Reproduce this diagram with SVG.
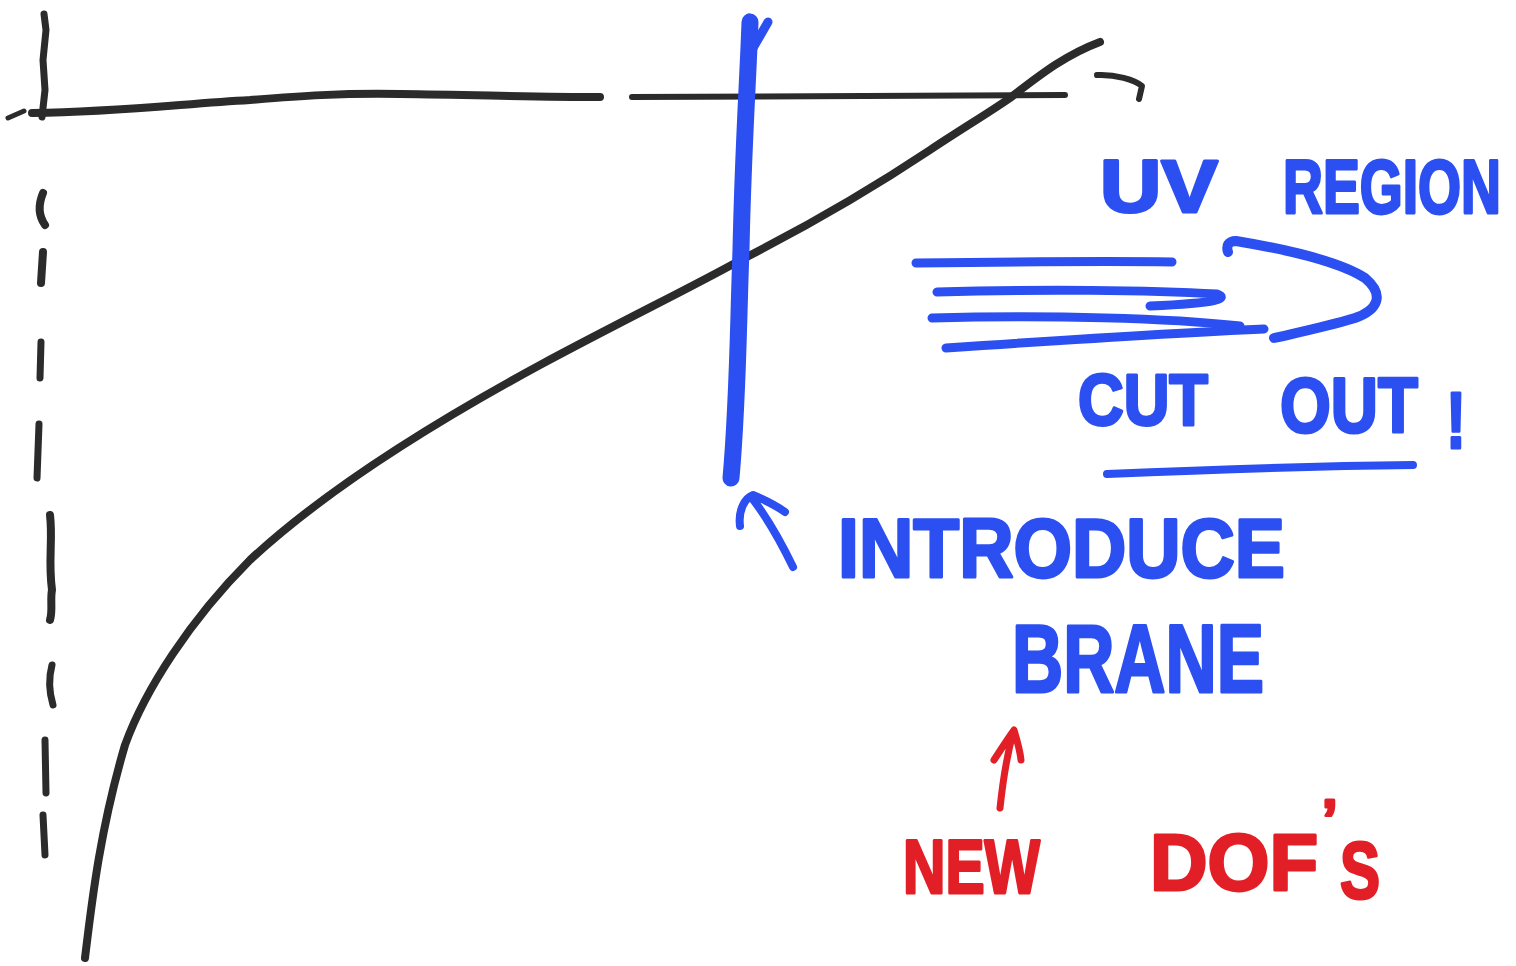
<svg xmlns="http://www.w3.org/2000/svg" width="1516" height="966" viewBox="0 0 1516 966">
<style>
.k{fill:none;stroke:#2b2b2b;stroke-linecap:round;stroke-linejoin:round}
.b{fill:none;stroke:#2b4ff0;stroke-linecap:round;stroke-linejoin:round}
.r{fill:none;stroke:#e21f26;stroke-linecap:round;stroke-linejoin:round}
.tb{fill:#2b4ff0;stroke:#2b4ff0;stroke-width:3;stroke-linejoin:round;font-family:"Liberation Sans",Arial,sans-serif;font-weight:bold}
.tr{fill:#e21f26;stroke:#e21f26;stroke-width:3;stroke-linejoin:round;font-family:"Liberation Sans",Arial,sans-serif;font-weight:bold}
</style>
<rect width="1516" height="966" fill="#ffffff"/>
<g id="axes">
<path class="k" stroke-width="7" d="M44 14 L46 30 L43 60 L45 90 L42 117"/>
<path class="k" stroke-width="5" d="M8 118 L24 111"/>
<path class="k" stroke-width="8" d="M32 113 C120 112 180 104 250 100 C300 96 340 93 400 94 C480 95 540 97 600 97"/>
<path class="k" stroke-width="6" d="M632 97 L1065 95"/>
<path class="k" stroke-width="6" d="M1097 75 C1115 74 1135 80 1142 86 L1139 99"/>
</g>
<g id="dashed-line">
<path class="k" stroke-width="8" d="M43 193 C38 205 38 215 45 225"/>
<path class="k" stroke-width="8" d="M43 252 L41 283"/>
<path class="k" stroke-width="7" d="M41 342 L40 378"/>
<path class="k" stroke-width="7" d="M39 424 L37 478"/>
<path class="k" stroke-width="8" d="M50 515 C53 540 48 560 52 590 C50 600 53 610 50 620"/>
<path class="k" stroke-width="7" d="M52 665 C48 680 50 695 53 705"/>
<path class="k" stroke-width="7" d="M45 740 L46 793"/>
<path class="k" stroke-width="7" d="M43 815 L45 855"/>
</g>
<g id="curve">
<path class="k" stroke-width="8" d="M85 958 C92 900 100 830 125 745 C145 690 190 620 250 560 C320 495 420 430 540 365 C620 322 690 288 737 262 C800 230 870 190 930 150 C960 130 990 112 1010 98 C1040 75 1065 55 1100 42"/>
</g>
<g id="brane">
<path class="b" stroke-width="17" d="M750 22 C748 80 743 150 741 250 C738 330 738 400 731 478"/>
<path class="b" stroke-width="9" d="M753 48 L768 22 M754 45 L749 18"/>
</g>
<g id="introduce-arrow">
<path class="b" stroke-width="8" d="M793 567 C780 540 765 515 752 498 M740 526 C738 510 745 498 753 495 C765 500 775 505 785 512"/>
</g>
<g id="uv-region">
<text class="tb" x="1100" y="212" font-size="74" textLength="118" lengthAdjust="spacingAndGlyphs">UV</text>
<text class="tb" transform="translate(1283 213) scale(0.727 1)" x="0" y="0" font-size="76">REGION</text>
</g>
<g id="cut-arrow">
<path class="b" stroke-width="9" d="M916 263 C1000 262 1100 261 1172 262"/>
<path class="b" stroke-width="9" d="M937 292 C1040 289 1150 290 1217 294 C1228 298 1222 303 1150 306"/>
<path class="b" stroke-width="9" d="M932 318 C1050 315 1170 318 1240 326"/>
<path class="b" stroke-width="9" d="M946 348 C1050 341 1170 333 1264 329"/>
<path class="b" stroke-width="10" d="M1228 252 C1226 246 1228 241 1236 241 C1290 250 1340 262 1365 278 C1385 295 1378 310 1355 318 C1325 327 1300 332 1274 338"/>
</g>
<g id="cut-out">
<text class="tb" x="1078" y="425" font-size="72" textLength="130" lengthAdjust="spacingAndGlyphs">CUT</text>
<text class="tb" x="1280" y="432" font-size="78" textLength="138" lengthAdjust="spacingAndGlyphs">OUT</text>
<text class="tb" x="1446" y="448" font-size="80" textLength="20" lengthAdjust="spacingAndGlyphs">!</text>
<path class="b" stroke-width="8" d="M1107 474 C1200 470 1320 466 1413 465"/>
</g>
<g id="introduce-brane">
<text class="tb" x="838" y="577" font-size="84" textLength="447" lengthAdjust="spacingAndGlyphs">INTRODUCE</text>
<text class="tb" x="1012" y="692" font-size="96" textLength="252" lengthAdjust="spacingAndGlyphs">BRANE</text>
</g>
<g id="red-arrow">
<path class="r" stroke-width="7" d="M1000 808 C1003 780 1007 755 1013 733 M994 760 C1002 748 1008 738 1014 730 C1017 740 1020 750 1021 760"/>
</g>
<g id="new-dofs">
<text class="tr" x="903" y="893" font-size="76" textLength="137" lengthAdjust="spacingAndGlyphs">NEW</text>
<text class="tr" x="1150" y="890" font-size="80" textLength="168" lengthAdjust="spacingAndGlyphs">DOF</text>
<text class="tr" x="1322" y="838" font-size="56">’</text>
<text class="tr" x="1340" y="898" font-size="80" textLength="40" lengthAdjust="spacingAndGlyphs">S</text>
</g>
</svg>
